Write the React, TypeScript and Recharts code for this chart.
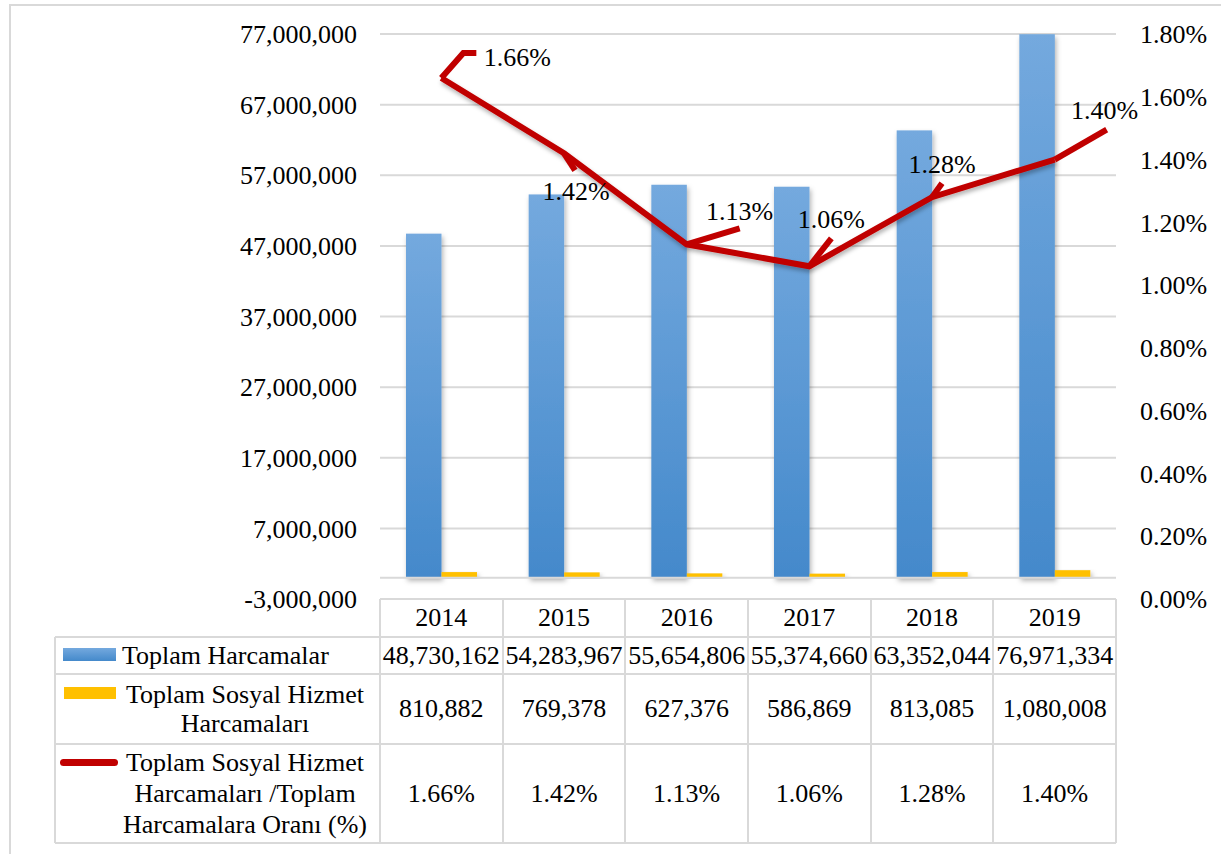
import React from 'react';
import {
  ComposedChart,
  Bar,
  Line,
  XAxis,
  YAxis,
  CartesianGrid,
  ReferenceLine,
  LabelList,
} from 'recharts';

const categories = ['2014', '2015', '2016', '2017', '2018', '2019'];
const totalSpending = [48730162, 54283967, 55654806, 55374660, 63352044, 76971334];
const socialSpending = [810882, 769378, 627376, 586869, 813085, 1080008];
const ratioPct = [1.66, 1.42, 1.13, 1.06, 1.28, 1.4];
const leftTicks = [-3000000, 7000000, 17000000, 27000000, 37000000, 47000000, 57000000, 67000000, 77000000];
const rightTicks = [0, 0.2, 0.4, 0.6, 0.8, 1.0, 1.2, 1.4, 1.6, 1.8];
const seriesNames = [
  'Toplam Harcamalar',
  'Toplam Sosyal Hizmet Harcamaları',
  'Toplam Sosyal Hizmet Harcamaları /Toplam Harcamalara Oranı (%)',
];

// label placement relative to each point (text centre / baseline, leader path)
const labelPlacement = [
  { tx: 76, ty: -12, leader: [[22, -25], [35, -25]] },
  { tx: 12, ty: 47, leader: [[11, 17]] },
  { tx: 53, ty: -24, leader: [[53, -16]] },
  { tx: 22, ty: -38, leader: [[22, -28]] },
  { tx: 10, ty: -24, leader: [[10, -14]] },
  { tx: 50, ty: -41, leader: [[52, -30]] },
];

const data = categories.map((c, i) => ({
  year: c,
  total: totalSpending[i],
  social: socialSpending[i],
  ratio: ratioPct[i],
}));

const W = 1221;
const H = 854;
const PLOT_LEFT = 380;
const PLOT_RIGHT = 1116;
const PLOT_TOP = 34;
const PLOT_BOTTOM = 599;
const FONT = '"Liberation Serif", "Times New Roman", serif';
const GRID = '#d9d9d9';
const RED = '#c00000';
const BLUE_TOP = '#74a9de';
const BLUE_BOTTOM = '#4489cb';
const YELLOW = '#ffc000';

const fmtInt = (v: number) => v.toLocaleString('en-US');
const fmtPct = (v: number) => v.toFixed(2) + '%';

const RatioLabel = (props: any) => {
  const { x, y, value, index } = props;
  const p = labelPlacement[index];
  if (!p || x == null || y == null) return null;
  const pts = [[x, y], ...p.leader.map(([dx, dy]) => [x + dx, y + dy])];
  const d = pts.map((q, k) => (k === 0 ? 'M' : 'L') + q[0] + ',' + q[1]).join(' ');
  return (
    <g>
      <path d={d} fill="none" stroke={RED} strokeWidth={6} strokeLinejoin="miter" />
      <text
        x={x + p.tx}
        y={y + p.ty}
        textAnchor="middle"
        fontFamily={FONT}
        fontSize={26}
        fill="#000"
      >
        {fmtPct(value)}
      </text>
    </g>
  );
};

const BarShape = (fill: string) => (props: any) => {
  const { x, y, width, height } = props;
  if (!width || !height) return null;
  return <rect x={x} y={y} width={width} height={height} fill={fill} filter="url(#barShadow)" />;
};

export default function App() {
  const colW = (PLOT_RIGHT - PLOT_LEFT) / categories.length;
  const rows = [
    { top: 599, h: 38 },
    { top: 637, h: 37 },
    { top: 674, h: 70 },
    { top: 744, h: 99 },
  ];
  const tableBottom = 843;
  const legendLeft = 55;
  const border = `2px solid ${GRID}`;

  const hLine = (left: number, right: number, top: number, key: string) => (
    <div key={key} style={{ position: 'absolute', left, top: top - 1, width: right - left, height: 0, borderTop: border }} />
  );
  const vLine = (x: number, top: number, bottom: number, key: string) => (
    <div key={key} style={{ position: 'absolute', left: x - 1, top, width: 0, height: bottom - top, borderLeft: border }} />
  );

  const cellText = (text: string, i: number, r: number) => (
    <div
      key={`c${r}-${i}`}
      style={{
        position: 'absolute',
        left: PLOT_LEFT + i * colW - 4,
        width: colW + 8,
        top: rows[r].top,
        height: rows[r].h,
        display: 'flex',
        alignItems: 'center',
        justifyContent: 'center',
        fontSize: 26,
        whiteSpace: 'nowrap',
        lineHeight: '30px',
      }}
    >
      {text}
    </div>
  );

  return (
    <div
      style={{
        position: 'absolute',
        left: 0,
        top: 0,
        width: W,
        height: H,
        overflow: 'hidden',
        background: '#fff',
        fontFamily: FONT,
        color: '#000',
      }}
    >
      <div style={{ position: 'absolute', left: 9, top: 4, width: 1300, height: 1000, border }} />
      <div style={{ position: 'absolute', left: 0, top: 0 }}>
        <ComposedChart
          width={W}
          height={H}
          data={data}
          margin={{ top: PLOT_TOP, right: 0, bottom: H - PLOT_BOTTOM, left: 0 }}
          barGap={0}
        >
          <defs>
            <linearGradient id="blueGrad" x1="0" y1="0" x2="0" y2="1">
              <stop offset="0%" stopColor={BLUE_TOP} />
              <stop offset="100%" stopColor={BLUE_BOTTOM} />
            </linearGradient>
            <filter id="barShadow" x="-20%" y="-5%" width="150%" height="115%">
              <feDropShadow dx="1.5" dy="3" stdDeviation="2.5" floodColor="#000" floodOpacity="0.3" />
            </filter>
            <filter id="lineShadow" x="-5%" y="-10%" width="110%" height="130%">
              <feDropShadow dx="1" dy="3" stdDeviation="2" floodColor="#000" floodOpacity="0.3" />
            </filter>
          </defs>
          <CartesianGrid yAxisId="left" vertical={false} stroke={GRID} strokeWidth={2} />
          <XAxis dataKey="year" hide />
          <YAxis
            yAxisId="left"
            orientation="left"
            width={PLOT_LEFT}
            domain={[-3000000, 77000000]}
            ticks={leftTicks}
            interval={0}
            tickFormatter={fmtInt}
            axisLine={false}
            tickLine={false}
            tickMargin={17}
            tick={{ fontFamily: FONT, fontSize: 26, fill: '#000' }}
          />
          <YAxis
            yAxisId="right"
            orientation="right"
            width={W - PLOT_RIGHT}
            domain={[0, 1.8]}
            ticks={rightTicks}
            interval={0}
            tickFormatter={fmtPct}
            axisLine={false}
            tickLine={false}
            tickMargin={18}
            tick={{ fontFamily: FONT, fontSize: 26, fill: '#000', textAnchor: 'start' }}
          />
          <ReferenceLine yAxisId="left" y={0} stroke={GRID} strokeWidth={2} />
          <Bar
            yAxisId="left"
            dataKey="total"
            name={seriesNames[0]}
            barSize={35.5}
            fill="url(#blueGrad)"
            shape={BarShape('url(#blueGrad)')}
            isAnimationActive={false}
          />
          <Bar
            yAxisId="left"
            dataKey="social"
            name={seriesNames[1]}
            barSize={35.5}
            fill={YELLOW}
            shape={BarShape(YELLOW)}
            isAnimationActive={false}
          />
          <Line
            yAxisId="right"
            type="linear"
            dataKey="ratio"
            name={seriesNames[2]}
            stroke={RED}
            strokeWidth={6}
            strokeLinejoin="miter"
            dot={false}
            activeDot={false}
            filter="url(#lineShadow)"
            isAnimationActive={false}
          >
            <LabelList dataKey="ratio" content={RatioLabel} />
          </Line>
        </ComposedChart>
      </div>

      {/* data table */}
      {hLine(PLOT_LEFT, PLOT_RIGHT, rows[0].top, 'h0')}
      {hLine(legendLeft, PLOT_RIGHT, rows[1].top, 'h1')}
      {hLine(legendLeft, PLOT_RIGHT, rows[2].top, 'h2')}
      {hLine(legendLeft, PLOT_RIGHT, rows[3].top, 'h3')}
      {hLine(legendLeft, PLOT_RIGHT, tableBottom, 'h4')}
      {vLine(legendLeft, rows[1].top, tableBottom, 'vl')}
      {categories.map((_, i) => vLine(PLOT_LEFT + i * colW, rows[0].top, tableBottom, 'v' + i))}
      {vLine(PLOT_RIGHT, rows[0].top, tableBottom, 'vr')}

      {categories.map((c, i) => cellText(c, i, 0))}
      {totalSpending.map((v, i) => cellText(fmtInt(v), i, 1))}
      {socialSpending.map((v, i) => cellText(fmtInt(v), i, 2))}
      {ratioPct.map((v, i) => cellText(fmtPct(v), i, 3))}

      {/* legend keys */}
      <div
        style={{
          position: 'absolute',
          left: 63,
          top: 648,
          width: 53,
          height: 13,
          background: `linear-gradient(${BLUE_TOP}, ${BLUE_BOTTOM})`,
        }}
      />
      <div style={{ position: 'absolute', left: 64, top: 687, width: 52, height: 12, background: YELLOW }} />
      <div style={{ position: 'absolute', left: 60, top: 759, width: 58, height: 7, borderRadius: 4, background: RED }} />

      {/* legend texts */}
      <div
        style={{
          position: 'absolute',
          left: 122,
          top: rows[1].top,
          height: rows[1].h,
          display: 'flex',
          alignItems: 'center',
          fontSize: 26,
          whiteSpace: 'nowrap',
        }}
      >
        {seriesNames[0]}
      </div>
      <div
        style={{
          position: 'absolute',
          left: 118,
          width: 254,
          top: rows[2].top,
          height: rows[2].h,
          display: 'flex',
          flexDirection: 'column',
          alignItems: 'center',
          justifyContent: 'center',
          fontSize: 26,
          lineHeight: '29px',
          textAlign: 'center',
          whiteSpace: 'nowrap',
        }}
      >
        <div>Toplam Sosyal Hizmet</div>
        <div>Harcamaları</div>
      </div>
      <div
        style={{
          position: 'absolute',
          left: 118,
          width: 254,
          top: rows[3].top,
          height: rows[3].h,
          display: 'flex',
          flexDirection: 'column',
          alignItems: 'center',
          justifyContent: 'center',
          fontSize: 26,
          lineHeight: '31px',
          textAlign: 'center',
          whiteSpace: 'nowrap',
        }}
      >
        <div>Toplam Sosyal Hizmet</div>
        <div>Harcamaları /Toplam</div>
        <div>Harcamalara Oranı (%)</div>
      </div>
    </div>
  );
}
